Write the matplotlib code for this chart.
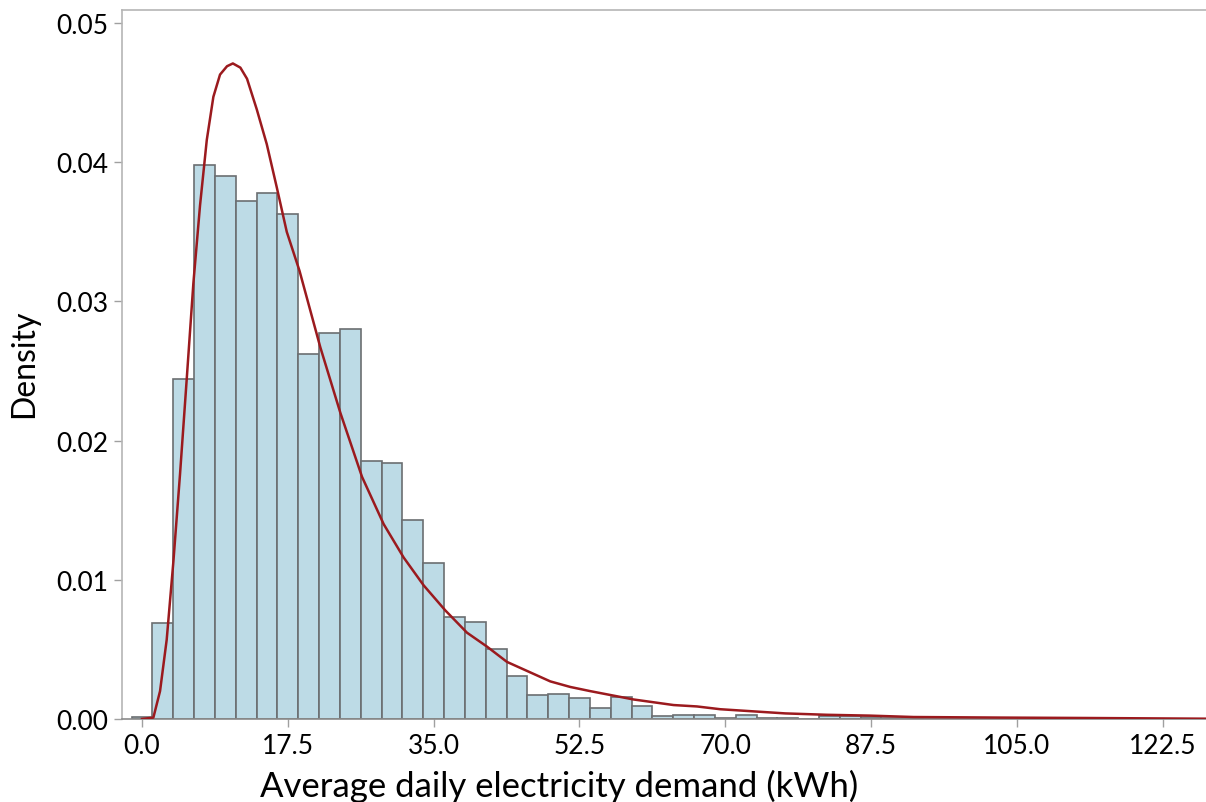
import numpy as np
import matplotlib
matplotlib.use("Agg")
import matplotlib.pyplot as plt

plt.rcParams['font.family'] = ['Lato', 'DejaVu Sans']

# Histogram: bin width 2.5, first bin centred on 0
bin_width = 2.5
bin_centers = np.arange(0, 115, 2.5)
density = [0.00016, 0.0069, 0.0244, 0.0398, 0.0390, 0.0372, 0.0378, 0.0363,
           0.0262, 0.0277, 0.0280, 0.0185, 0.0184, 0.0143, 0.0112, 0.0073,
           0.0070, 0.0050, 0.0031, 0.0017, 0.0018, 0.0015, 0.0008, 0.0016,
           0.0009, 0.00024, 0.0003, 0.0003, 0.00007, 0.00025, 0.00007, 0.00007,
           0.0, 0.00022, 0.00022, 0.00015, 0.0001, 0.0001, 0.00003, 0.00003,
           0.00003, 0.00003, 0.00003, 0.00003, 0.00003, 0.00003]

# Fitted density curve
curve_x = [0, 1.36, 2.16, 2.96, 3.76, 4.56, 5.36, 6.16, 6.96, 7.77, 8.56, 9.36,
           10.2, 10.9, 11.8, 12.6, 13.77, 14.97, 16.17, 17.37, 18.9, 21.4, 23.8,
           26.4, 29.0, 31.4, 33.8, 36.4, 39.0, 41.4, 43.8, 46.4, 49.0, 51.4, 53.8,
           56.4, 59.0, 61.4, 63.8, 66.6, 69.4, 72.0, 74.6, 77.2, 82.2, 87.4, 92.6,
           103, 113.4, 127.7]
curve_y = [0, 0.0001, 0.002, 0.0057, 0.0113, 0.0176, 0.0244, 0.0313, 0.0369, 0.0416,
           0.0447, 0.0463, 0.0469, 0.0471, 0.0468, 0.0460, 0.0438, 0.0413, 0.0382,
           0.0350, 0.0322, 0.0267, 0.0220, 0.0174, 0.0140, 0.0116, 0.0096, 0.0078,
           0.0062, 0.0052, 0.0041, 0.0034, 0.0027, 0.0023, 0.0020, 0.0017, 0.0014,
           0.0012, 0.0010, 0.0009, 0.0007, 0.0006, 0.0005, 0.0004, 0.0003, 0.00024,
           0.00014, 0.0001, 0.00007, 0.00002]

x_ticks = [0.0, 17.5, 35.0, 52.5, 70.0, 87.5, 105.0, 122.5]
y_ticks = [0.00, 0.01, 0.02, 0.03, 0.04, 0.05]

fig = plt.figure(figsize=(12.06, 8.03), dpi=100)
ax = fig.add_axes([0.1012, 0.1034, 0.8988, 0.8829])

ax.bar(bin_centers, density, width=bin_width, color='#bddbe6',
       edgecolor='#6b6e71', linewidth=1.2, zorder=2)
ax.plot(curve_x, curve_y, color='#9b1a1e', linewidth=1.8, zorder=3)

ax.set_xlim(-2.4, 127.7)
ax.set_ylim(0, 0.05094)
ax.set_xticks(x_ticks)
ax.set_xticklabels([f"{t:.1f}" for t in x_ticks])
ax.set_yticks(y_ticks)
ax.set_yticklabels([f"{t:.2f}" for t in y_ticks])

for s in ['left', 'top', 'right']:
    ax.spines[s].set_color('#b5b5b5')
    ax.spines[s].set_linewidth(1.2)
ax.spines['bottom'].set_color('#8a8a8a')
ax.spines['bottom'].set_linewidth(1.2)
ax.spines['right'].set_visible(False)

ax.tick_params(axis='both', colors='#a0a0a0', length=6, width=1.0,
               labelcolor='black', labelsize=19, pad=4)

fig.text(559 / 1206, 1 - 786 / 803, 'Average daily electricity demand (kWh)',
         fontsize=25, ha='center', va='center')
fig.text(24 / 1206, 1 - 364 / 803, 'Density', fontsize=23, rotation=90,
         ha='center', va='center')

fig.savefig('out.png', dpi=100)
